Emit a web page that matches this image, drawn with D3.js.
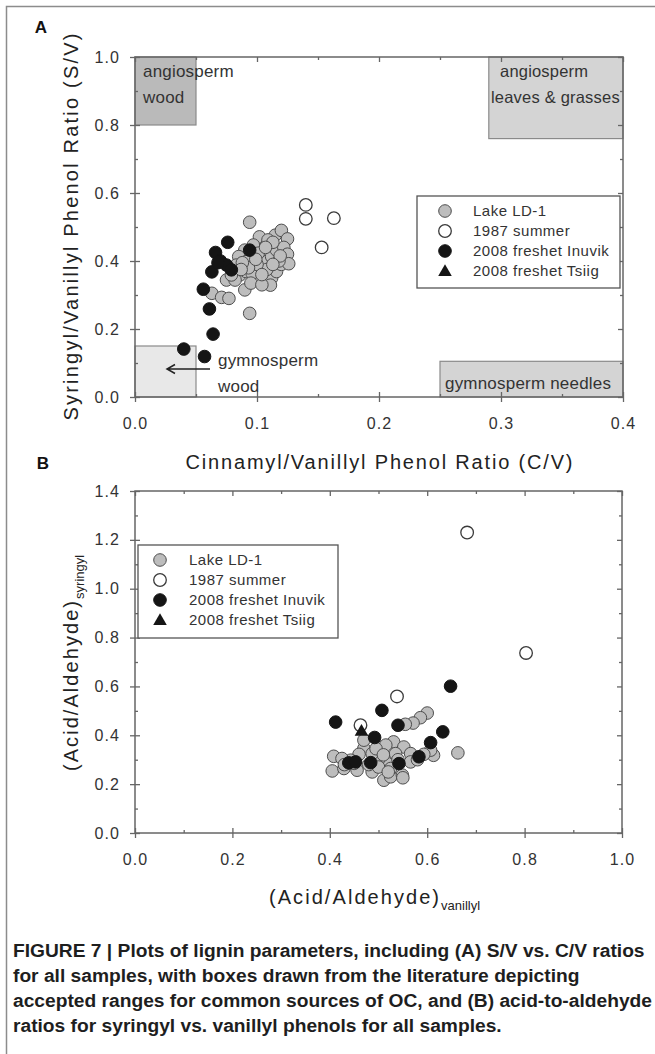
<!DOCTYPE html>
<html>
<head>
<meta charset="utf-8">
<script src="https://cdn.jsdelivr.net/npm/d3@7"></script>
<style>
  body { margin: 0; background: #fff; }
  svg { display: block; font-family: "Liberation Sans", Arial, sans-serif; }
</style>
</head>
<body>
<svg id="fig" width="655" height="1054"></svg>
<script>
// ---- panel A : S/V vs C/V ----
var lakeA = [
	[0.094,0.514],[0.102,0.471],[0.115,0.476],[0.108,0.447],[0.097,0.447],[0.090,0.432],[0.085,0.413],
	[0.083,0.388],[0.086,0.359],[0.091,0.369],[0.098,0.378],[0.105,0.398],[0.112,0.413],[0.116,0.432],
	[0.108,0.364],[0.102,0.344],[0.112,0.350],[0.116,0.369],[0.111,0.329],[0.090,0.315],[0.075,0.344],
	[0.082,0.344],[0.079,0.359],[0.063,0.305],[0.071,0.293],[0.077,0.290],[0.094,0.246],[0.097,0.413],
	[0.091,0.398],[0.101,0.423],[0.109,0.462],[0.096,0.364],[0.120,0.490],[0.125,0.465],[0.122,0.440],
	[0.125,0.420],[0.120,0.390],[0.126,0.392],[0.118,0.400],[0.113,0.455],[0.107,0.440],[0.095,0.335],
	[0.104,0.330],[0.108,0.375],[0.100,0.390],[0.093,0.380],[0.088,0.395],[0.104,0.360],[0.119,0.415],
	[0.113,0.390],[0.099,0.405],[0.087,0.375]
];
var summerA = [[0.140,0.565],[0.140,0.524],[0.163,0.526],[0.153,0.440]];
var inuvikA = [
	[0.040,0.141],[0.057,0.119],[0.064,0.185],[0.061,0.259],[0.056,0.317],[0.063,0.368],[0.066,0.425],
	[0.076,0.455],[0.070,0.400],[0.075,0.388],[0.079,0.374],[0.094,0.432],[0.068,0.395]
];
var tsiigA = [];

// literature source boxes [x0, x1, y0, y1]
var boxRanges = [[0, 0.05, 0.8, 1.0], [0.29, 0.4, 0.76, 1.0], [0, 0.05, 0, 0.15], [0.25, 0.4, 0, 0.105]];
var boxFills = ["#bababa", "#d4d4d4", "#e8e8e8", "#d4d4d4"];

// ---- panel B : acid/aldehyde ----
var lakeB = [
	[0.600,0.491],[0.586,0.472],[0.571,0.450],[0.555,0.445],[0.663,0.328],[0.408,0.314],[0.405,0.254],
	[0.429,0.264],[0.487,0.250],[0.511,0.216],[0.525,0.230],[0.549,0.237],[0.470,0.346],[0.504,0.350],
	[0.531,0.373],[0.552,0.352],[0.566,0.325],[0.613,0.318],[0.607,0.339],[0.518,0.284],[0.501,0.304],
	[0.470,0.380],[0.460,0.322],[0.443,0.298],[0.425,0.305],[0.456,0.257],[0.525,0.264],[0.566,0.291],
	[0.535,0.325],[0.487,0.325],[0.593,0.322],[0.550,0.226],[0.515,0.360],[0.495,0.345],[0.540,0.300],
	[0.480,0.280],[0.500,0.270],[0.580,0.300],[0.520,0.250],[0.450,0.285],[0.430,0.280],[0.510,0.320]
];
var summerB = [[0.682,1.230],[0.803,0.737],[0.538,0.559],[0.463,0.441]];
var inuvikB = [
	[0.412,0.454],[0.507,0.502],[0.648,0.601],[0.540,0.441],[0.632,0.414],[0.607,0.370],[0.492,0.391],
	[0.583,0.312],[0.542,0.284],[0.484,0.288],[0.439,0.287],[0.453,0.291]
];
var tsiigB = [[0.465,0.418]];

var seriesNames = ["Lake LD-1", "1987 summer", "2008 freshet Inuvik", "2008 freshet Tsiig"];

var xTicksA = [0, 0.1, 0.2, 0.3, 0.4], xMinorA = [0.05, 0.15, 0.25, 0.35];
var yTicksA = [0, 0.2, 0.4, 0.6, 0.8, 1.0], yMinorA = [0.1, 0.3, 0.5, 0.7, 0.9];
var xTicksB = [0, 0.2, 0.4, 0.6, 0.8, 1.0], xMinorB = [0.1, 0.3, 0.5, 0.7, 0.9];
var yTicksB = [0, 0.2, 0.4, 0.6, 0.8, 1.0, 1.2, 1.4], yMinorB = [0.1, 0.3, 0.5, 0.7, 0.9, 1.1, 1.3];

var caption = [
	"FIGURE 7 | Plots of lignin parameters, including (A) S/V vs. C/V ratios",
	"for all samples, with boxes drawn from the literature depicting",
	"accepted ranges for common sources of OC, and (B) acid-to-aldehyde",
	"ratios for syringyl vs. vanillyl phenols for all samples."
];

var svg = d3.select("#fig");

// outer figure frame (only left & top show in the crop)
svg.append("path")
	.attr("d", "M6.5,1054V6.5H655")
	.attr("fill", "none").attr("stroke", "#8c8c8c").attr("stroke-width", 1.5);

var xA = d3.scaleLinear().domain([0, 0.4]).range([135, 623]);
var yA = d3.scaleLinear().domain([0, 1]).range([397, 57]);
var xB = d3.scaleLinear().domain([0, 1]).range([135, 622]);
var yB = d3.scaleLinear().domain([0, 1.4]).range([833, 491]);

function drawAxes(x, y, xt, xm, yt, ym) {
	var g = svg.append("g").attr("class", "axes");
	var x0 = x.range()[0], x1 = x.range()[1], y0 = y.range()[0], y1 = y.range()[1];

	function styleAx(sel) {
		sel.select(".domain").remove();
		sel.selectAll("line").attr("stroke", "#666").attr("stroke-width", 1.3);
		sel.selectAll("text").attr("font-size", 16).attr("fill", "#333")
			.attr("font-family", "'Liberation Sans', Arial, sans-serif").style("letter-spacing", "1.1px");
	}
	var fmt = d3.format(".1f");

	// bottom: labels + outward majors, inward majors & minors
	g.append("g").attr("transform", "translate(0," + y0 + ")")
		.call(d3.axisBottom(x).tickValues(xt).tickSize(5).tickPadding(16).tickFormat(fmt)).call(styleAx);
	g.append("g").attr("transform", "translate(0," + y0 + ")")
		.call(d3.axisBottom(x).tickValues(xt).tickSize(-5).tickFormat("")).call(styleAx);
	g.append("g").attr("transform", "translate(0," + y0 + ")")
		.call(d3.axisBottom(x).tickValues(xm).tickSize(-3).tickFormat("")).call(styleAx);
	// top
	g.append("g").attr("transform", "translate(0," + y1 + ")")
		.call(d3.axisTop(x).tickValues(xt).tickSize(-5).tickFormat("")).call(styleAx);
	g.append("g").attr("transform", "translate(0," + y1 + ")")
		.call(d3.axisTop(x).tickValues(xm).tickSize(-3).tickFormat("")).call(styleAx);
	// left
	g.append("g").attr("transform", "translate(" + x0 + ",0)")
		.call(d3.axisLeft(y).tickValues(yt).tickSize(5).tickPadding(10).tickFormat(fmt)).call(styleAx);
	g.append("g").attr("transform", "translate(" + x0 + ",0)")
		.call(d3.axisLeft(y).tickValues(yt).tickSize(-5).tickFormat("")).call(styleAx);
	g.append("g").attr("transform", "translate(" + x0 + ",0)")
		.call(d3.axisLeft(y).tickValues(ym).tickSize(-3).tickFormat("")).call(styleAx);
	// right
	g.append("g").attr("transform", "translate(" + x1 + ",0)")
		.call(d3.axisRight(y).tickValues(yt).tickSize(-5).tickFormat("")).call(styleAx);
	g.append("g").attr("transform", "translate(" + x1 + ",0)")
		.call(d3.axisRight(y).tickValues(ym).tickSize(-3).tickFormat("")).call(styleAx);

	// plot frame
	g.append("rect")
		.attr("x", x0).attr("y", y1).attr("width", x1 - x0).attr("height", y0 - y1)
		.attr("fill", "none").attr("stroke", "#666").attr("stroke-width", 1.5);
}

var seriesStyle = [
	{ fill: "#bdbdbd", stroke: "#4d4d4d", sw: 1 },
	{ fill: "#ffffff", stroke: "#3a3a3a", sw: 1.3 },
	{ fill: "#151515", stroke: "#151515", sw: 1 },
	{ fill: "#151515", stroke: "#151515", sw: 1 }
];

function drawPoints(x, y, sets) {
	var g = svg.append("g");
	sets.forEach(function (pts, i) {
		var st = seriesStyle[i];
		if (i < 3) {
			g.selectAll(".s" + i).data(pts).enter().append("circle")
				.attr("cx", function (d) { return x(d[0]); })
				.attr("cy", function (d) { return y(d[1]); })
				.attr("r", 6.3)
				.attr("fill", st.fill).attr("stroke", st.stroke).attr("stroke-width", st.sw);
		} else {
			g.selectAll(".s" + i).data(pts).enter().append("path")
				.attr("d", d3.symbol(d3.symbolTriangle, 80))
				.attr("transform", function (d) { return "translate(" + x(d[0]) + "," + (y(d[1]) + 1) + ")"; })
				.attr("fill", st.fill);
		}
	});
}

function drawLegend(lx, ly, w, h, sx, tx, row0) {
	var g = svg.append("g");
	g.append("rect").attr("x", lx).attr("y", ly).attr("width", w).attr("height", h)
		.attr("fill", "#fff").attr("stroke", "#555").attr("stroke-width", 1.3);
	seriesNames.forEach(function (name, i) {
		var yy = row0 + i * 20, st = seriesStyle[i];
		if (i < 3) {
			g.append("circle").attr("cx", sx).attr("cy", yy).attr("r", 6.3)
				.attr("fill", st.fill).attr("stroke", st.stroke).attr("stroke-width", st.sw);
		} else {
			g.append("path").attr("d", d3.symbol(d3.symbolTriangle, 80))
				.attr("transform", "translate(" + sx + "," + (yy + 1) + ")").attr("fill", st.fill);
		}
		g.append("text").attr("x", tx).attr("y", yy).attr("dy", "0.36em")
			.attr("font-size", 15).attr("fill", "#333").style("letter-spacing", "0.5px")
			.text(name);
	});
}

// ---------- panel A ----------
var boxG = svg.append("g");
boxG.selectAll("rect").data(boxRanges).enter().append("rect")
	.attr("x", function (d) { return xA(d[0]); })
	.attr("y", function (d) { return yA(d[3]); })
	.attr("width", function (d) { return xA(d[1]) - xA(d[0]); })
	.attr("height", function (d) { return yA(d[2]) - yA(d[3]); })
	.attr("fill", function (d, i) { return boxFills[i]; })
	.attr("stroke", "#8a8a8a").attr("stroke-width", 1.2);

drawAxes(xA, yA, xTicksA, xMinorA, yTicksA, yMinorA);
drawPoints(xA, yA, [lakeA, summerA, inuvikA, tsiigA]);

// box labels [text, x, y, size]
var boxLabels = [
	["angiosperm", 143, 77, 17], ["wood", 143, 103, 17],
	["angiosperm", 500, 77, 16.5], ["leaves & grasses", 491, 103, 16.5],
	["gymnosperm", 218, 366, 17], ["wood", 218, 392, 17],
	["gymnosperm needles", 445, 389, 17]
];
svg.append("g").selectAll("text").data(boxLabels).enter().append("text")
	.attr("x", function (d) { return d[1]; })
	.attr("y", function (d) { return d[2]; })
	.attr("font-size", function (d) { return d[3]; })
	.attr("fill", "#333").style("letter-spacing", "0.2px")
	.text(function (d) { return d[0]; });

// arrow pointing into gymnosperm wood box
svg.append("path")
	.attr("d", "M210,369H167M175,364.5L167,369L175,373.5")
	.attr("fill", "none").attr("stroke", "#222").attr("stroke-width", 1.5);

drawLegend(417, 196, 203, 92, 445, 473, 211);

svg.append("text").attr("x", 41).attr("y", 33).attr("text-anchor", "middle")
	.attr("font-size", 17).attr("font-weight", "bold").attr("fill", "#111").text("A");

svg.append("text").attr("x", 379).attr("y", 469).attr("text-anchor", "middle")
	.attr("font-size", 20).attr("fill", "#222")
	.attr("textLength", 387).attr("lengthAdjust", "spacing")
	.text("Cinnamyl/Vanillyl Phenol Ratio (C/V)");

svg.append("text").attr("transform", "translate(78,227) rotate(-90)").attr("text-anchor", "middle")
	.attr("font-size", 20).attr("fill", "#222")
	.attr("textLength", 387).attr("lengthAdjust", "spacing")
	.text("Syringyl/Vanillyl Phenol Ratio (S/V)");

// ---------- panel B ----------
drawAxes(xB, yB, xTicksB, xMinorB, yTicksB, yMinorB);
drawPoints(xB, yB, [lakeB, summerB, inuvikB, tsiigB]);
drawLegend(138, 545, 200, 93, 160, 189, 560);

svg.append("text").attr("x", 43).attr("y", 469).attr("text-anchor", "middle")
	.attr("font-size", 17).attr("font-weight", "bold").attr("fill", "#111").text("B");

var xtB = svg.append("text").attr("x", 269).attr("y", 904).attr("fill", "#222");
xtB.append("tspan").attr("font-size", 20).attr("textLength", 170).attr("lengthAdjust", "spacing").text("(Acid/Aldehyde)");
xtB.append("tspan").attr("font-size", 13).attr("dy", 6).text("vanillyl");

var ytB = svg.append("text").attr("transform", "translate(78,771) rotate(-90)").attr("fill", "#222");
ytB.append("tspan").attr("font-size", 20).attr("textLength", 170).attr("lengthAdjust", "spacing").text("(Acid/Aldehyde)");
ytB.append("tspan").attr("font-size", 13).attr("dy", 6).text("syringyl");

// ---------- caption ----------
// one condensing factor for all lines, so the widest line ends near the right edge
var capText = svg.append("g").selectAll("text").data(caption).enter().append("text")
	.attr("x", 13)
	.attr("y", function (d, i) { return 957 + i * 25; })
	.attr("font-size", 17.5).attr("font-weight", "bold").attr("fill", "#1e1e1e")
	.text(function (d) { return d; });
var widest = d3.max(capText.nodes(), function (n) { return n.getComputedTextLength(); });
var squeeze = 639 / widest;
capText.each(function () {
	var w = this.getComputedTextLength();
	d3.select(this).attr("textLength", w * squeeze).attr("lengthAdjust", "spacingAndGlyphs");
});
</script>
</body>
</html>
